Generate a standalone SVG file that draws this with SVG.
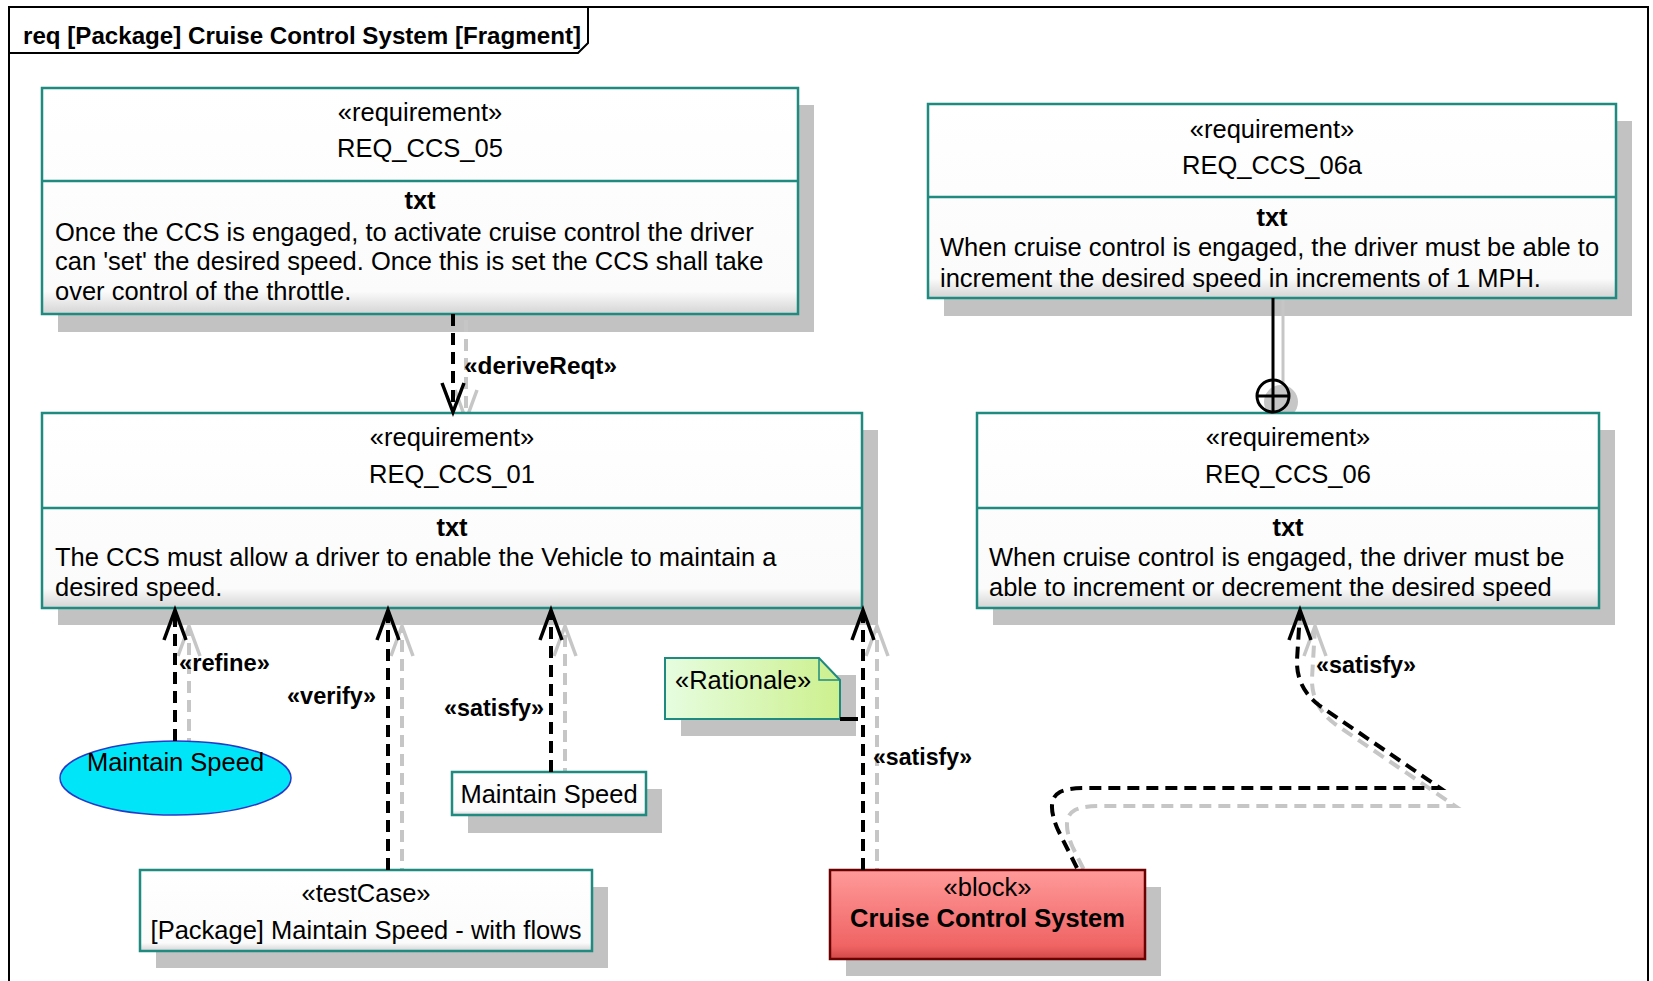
<svg xmlns="http://www.w3.org/2000/svg" width="1653" height="981" viewBox="0 0 1653 981">
<style>
text{font-family:"Liberation Sans",Arial,sans-serif;fill:#000}
.t{font-size:25.5px}
.c{text-anchor:middle}
.b{font-weight:bold}
.lbl{font-size:24px;font-weight:bold}
.box{fill:url(#boxGrad);stroke:#1f8a80;stroke-width:2.5}
.div{stroke:#1f8a80;stroke-width:2.5}
.sh{fill:#c2c2c2}
.dep{fill:none;stroke:#000;stroke-width:4;stroke-dasharray:12 7}
.arr{fill:none;stroke:#000;stroke-width:3.5}
.sdep{fill:none;stroke:#c6c6c6;stroke-width:4;stroke-dasharray:12 7}
.sarr{fill:none;stroke:#c6c6c6;stroke-width:3.5}
</style>
<defs>
<linearGradient id="boxGrad" x1="0" y1="0" x2="0" y2="1">
<stop offset="0" stop-color="#ffffff"/>
<stop offset="0.9" stop-color="#fbfbfb"/>
<stop offset="1" stop-color="#d4d4d4"/>
</linearGradient>
<linearGradient id="noteGrad" x1="0" y1="0" x2="1" y2="0">
<stop offset="0" stop-color="#e6fde0"/>
<stop offset="1" stop-color="#cdf08e"/>
</linearGradient>
<linearGradient id="blockGrad" x1="0" y1="0" x2="0" y2="1">
<stop offset="0" stop-color="#ff9a9a"/>
<stop offset="0.85" stop-color="#f06464"/>
<stop offset="1" stop-color="#d04848"/>
</linearGradient>
</defs>
<rect x="0" y="0" width="1653" height="981" fill="#fff"/>

<g id="frame">
<rect x="9" y="7" width="1639" height="1000" fill="none" stroke="#000" stroke-width="2"/>
<path d="M9,53 L578,53 L588,43 L588,7" fill="none" stroke="#000" stroke-width="2"/>
<text x="23" y="44" font-size="24" font-weight="bold" textLength="558" lengthAdjust="spacingAndGlyphs">req [Package] Cruise Control System [Fragment]</text>
</g>

<g id="shadows">
<rect class="sh" x="58" y="105" width="756" height="227"/>
<rect class="sh" x="944" y="121" width="688" height="195"/>
<rect class="sh" x="58" y="430" width="820" height="195"/>
<rect class="sh" x="993" y="430" width="622" height="195"/>
<rect class="sh" x="468" y="789" width="194" height="44"/>
<rect class="sh" x="156" y="887" width="452" height="81"/>
<rect class="sh" x="846" y="887" width="315" height="89"/>
<rect class="sh" x="681" y="675" width="175" height="61"/>
</g>

<g id="connector-shadows">
<path class="sdep" d="M466,320 L466,420"/>
<path class="sarr" d="M455,390 L466,420 L477,390"/>
<path class="sdep" d="M189,750 L189,628"/>
<path class="sarr" d="M178,656 L189,626 L200,656"/>
<path class="sdep" d="M402,880 L402,628"/>
<path class="sarr" d="M391,656 L402,626 L413,656"/>
<path class="sdep" d="M565,780 L565,628"/>
<path class="sarr" d="M554,656 L565,626 L576,656"/>
<path class="sdep" d="M877,880 L877,628"/>
<path class="sarr" d="M866,656 L877,626 L888,656"/>
<path class="sdep" d="M1092,886 L1073,848 Q1060,818 1075,810 Q1083,806 1100,806 L1455,806 L1335,724 Q1311,706 1312,678 L1315,628"/>
<path class="sarr" d="M1304,656 L1315,626 L1326,656"/>
<path d="M1283,300 L1283,400" fill="none" stroke="#c6c6c6" stroke-width="3"/>
<circle cx="1281" cy="402" r="17" fill="#c6c6c6"/>
</g>

<g id="req05">
<rect class="box" x="42" y="88" width="756" height="226"/>
<line class="div" x1="42" y1="181" x2="798" y2="181"/>
<text class="t c" x="420" y="121">«requirement»</text>
<text class="t c" x="420" y="157">REQ_CCS_05</text>
<text class="t c b" x="420" y="209">txt</text>
<text class="t" x="55" y="241">Once the CCS is engaged, to activate cruise control the driver</text>
<text class="t" x="55" y="270">can 'set' the desired speed. Once this is set the CCS shall take</text>
<text class="t" x="55" y="300">over control of the throttle.</text>
</g>

<g id="req06a">
<rect class="box" x="928" y="104" width="688" height="194"/>
<line class="div" x1="928" y1="197" x2="1616" y2="197"/>
<text class="t c" x="1272" y="138">«requirement»</text>
<text class="t c" x="1272" y="174">REQ_CCS_06a</text>
<text class="t c b" x="1272" y="226">txt</text>
<text class="t" x="940" y="256">When cruise control is engaged, the driver must be able to</text>
<text class="t" x="940" y="287">increment the desired speed in increments of 1 MPH.</text>
</g>

<g id="req01">
<rect class="box" x="42" y="413" width="820" height="195"/>
<line class="div" x1="42" y1="508" x2="862" y2="508"/>
<text class="t c" x="452" y="446">«requirement»</text>
<text class="t c" x="452" y="483">REQ_CCS_01</text>
<text class="t c b" x="452" y="536">txt</text>
<text class="t" x="55" y="566">The CCS must allow a driver to enable the Vehicle to maintain a</text>
<text class="t" x="55" y="596">desired speed.</text>
</g>

<g id="req06">
<rect class="box" x="977" y="413" width="622" height="195"/>
<line class="div" x1="977" y1="508" x2="1599" y2="508"/>
<text class="t c" x="1288" y="446">«requirement»</text>
<text class="t c" x="1288" y="483">REQ_CCS_06</text>
<text class="t c b" x="1288" y="536">txt</text>
<text class="t" x="989" y="566">When cruise control is engaged, the driver must be</text>
<text class="t" x="989" y="596">able to increment or decrement the desired speed</text>
</g>

<g id="usecase-maintain-speed">
<ellipse cx="175.5" cy="778" rx="115.5" ry="37" fill="#00e6f8" stroke="#2a3ac8" stroke-width="1.5"/>
<text class="t c" x="175.5" y="771">Maintain Speed</text>
</g>

<g id="activity-maintain-speed">
<rect class="box" x="452" y="772" width="194" height="43"/>
<text class="t c" x="549" y="803">Maintain Speed</text>
</g>

<g id="testcase">
<rect class="box" x="140" y="870" width="452" height="81"/>
<text class="t c" x="366" y="902">«testCase»</text>
<text class="t c" x="366" y="939">[Package] Maintain Speed - with flows</text>
</g>

<g id="rationale">
<path d="M665,658 L819,658 L840,680 L840,719 L665,719 Z" fill="url(#noteGrad)" stroke="#1f8a80" stroke-width="2"/>
<path d="M819,658 L819,680 L840,680" fill="none" stroke="#1f8a80" stroke-width="1.5"/>
<text class="t" x="675" y="689">«Rationale»</text>
</g>

<g id="block-ccs">
<rect x="830" y="870" width="315" height="89" fill="url(#blockGrad)" stroke="#6a0000" stroke-width="2.5"/>
<text class="t c" x="987.5" y="896">«block»</text>
<text class="t c b" x="987.5" y="927">Cruise Control System</text>
</g>

<g id="connectors">
<path class="dep" d="M453,314 L453,410"/>
<path class="arr" d="M442,383 L453,412 L464,383"/>
<text class="lbl" x="464" y="374" textLength="153" lengthAdjust="spacingAndGlyphs">«deriveReqt»</text>

<path class="dep" d="M175,741 L175,612"/>
<path class="arr" d="M164,640 L175,610 L186,640"/>
<text class="lbl" x="179" y="671" textLength="91" lengthAdjust="spacingAndGlyphs">«refine»</text>

<path class="dep" d="M388,870 L388,612"/>
<path class="arr" d="M377,640 L388,610 L399,640"/>
<text class="lbl" x="287" y="704" textLength="89" lengthAdjust="spacingAndGlyphs">«verify»</text>

<path class="dep" d="M551,772 L551,612"/>
<path class="arr" d="M540,640 L551,610 L562,640"/>
<text class="lbl" x="444" y="716" textLength="100" lengthAdjust="spacingAndGlyphs">«satisfy»</text>

<path class="dep" d="M863,870 L863,612"/>
<path class="arr" d="M852,640 L863,610 L874,640"/>
<text class="lbl" x="873" y="765" textLength="99" lengthAdjust="spacingAndGlyphs">«satisfy»</text>
<line x1="840" y1="719" x2="858" y2="719" stroke="#000" stroke-width="4"/>

<path class="dep" d="M1077,868 L1058,830 Q1045,800 1060,792 Q1068,788 1085,788 L1440,788 L1320,706 Q1296,688 1297,660 L1300,612"/>
<path class="arr" d="M1289,640 L1300,610 L1311,640"/>
<text class="lbl" x="1316" y="673" textLength="100" lengthAdjust="spacingAndGlyphs">«satisfy»</text>

<line x1="1273" y1="298" x2="1273" y2="379" stroke="#000" stroke-width="3"/>
<circle cx="1273" cy="396" r="16" fill="none" stroke="#000" stroke-width="3"/>
<line x1="1257" y1="396" x2="1289" y2="396" stroke="#000" stroke-width="3"/>
<line x1="1273" y1="380" x2="1273" y2="412" stroke="#000" stroke-width="3"/>
</g>
</svg>
